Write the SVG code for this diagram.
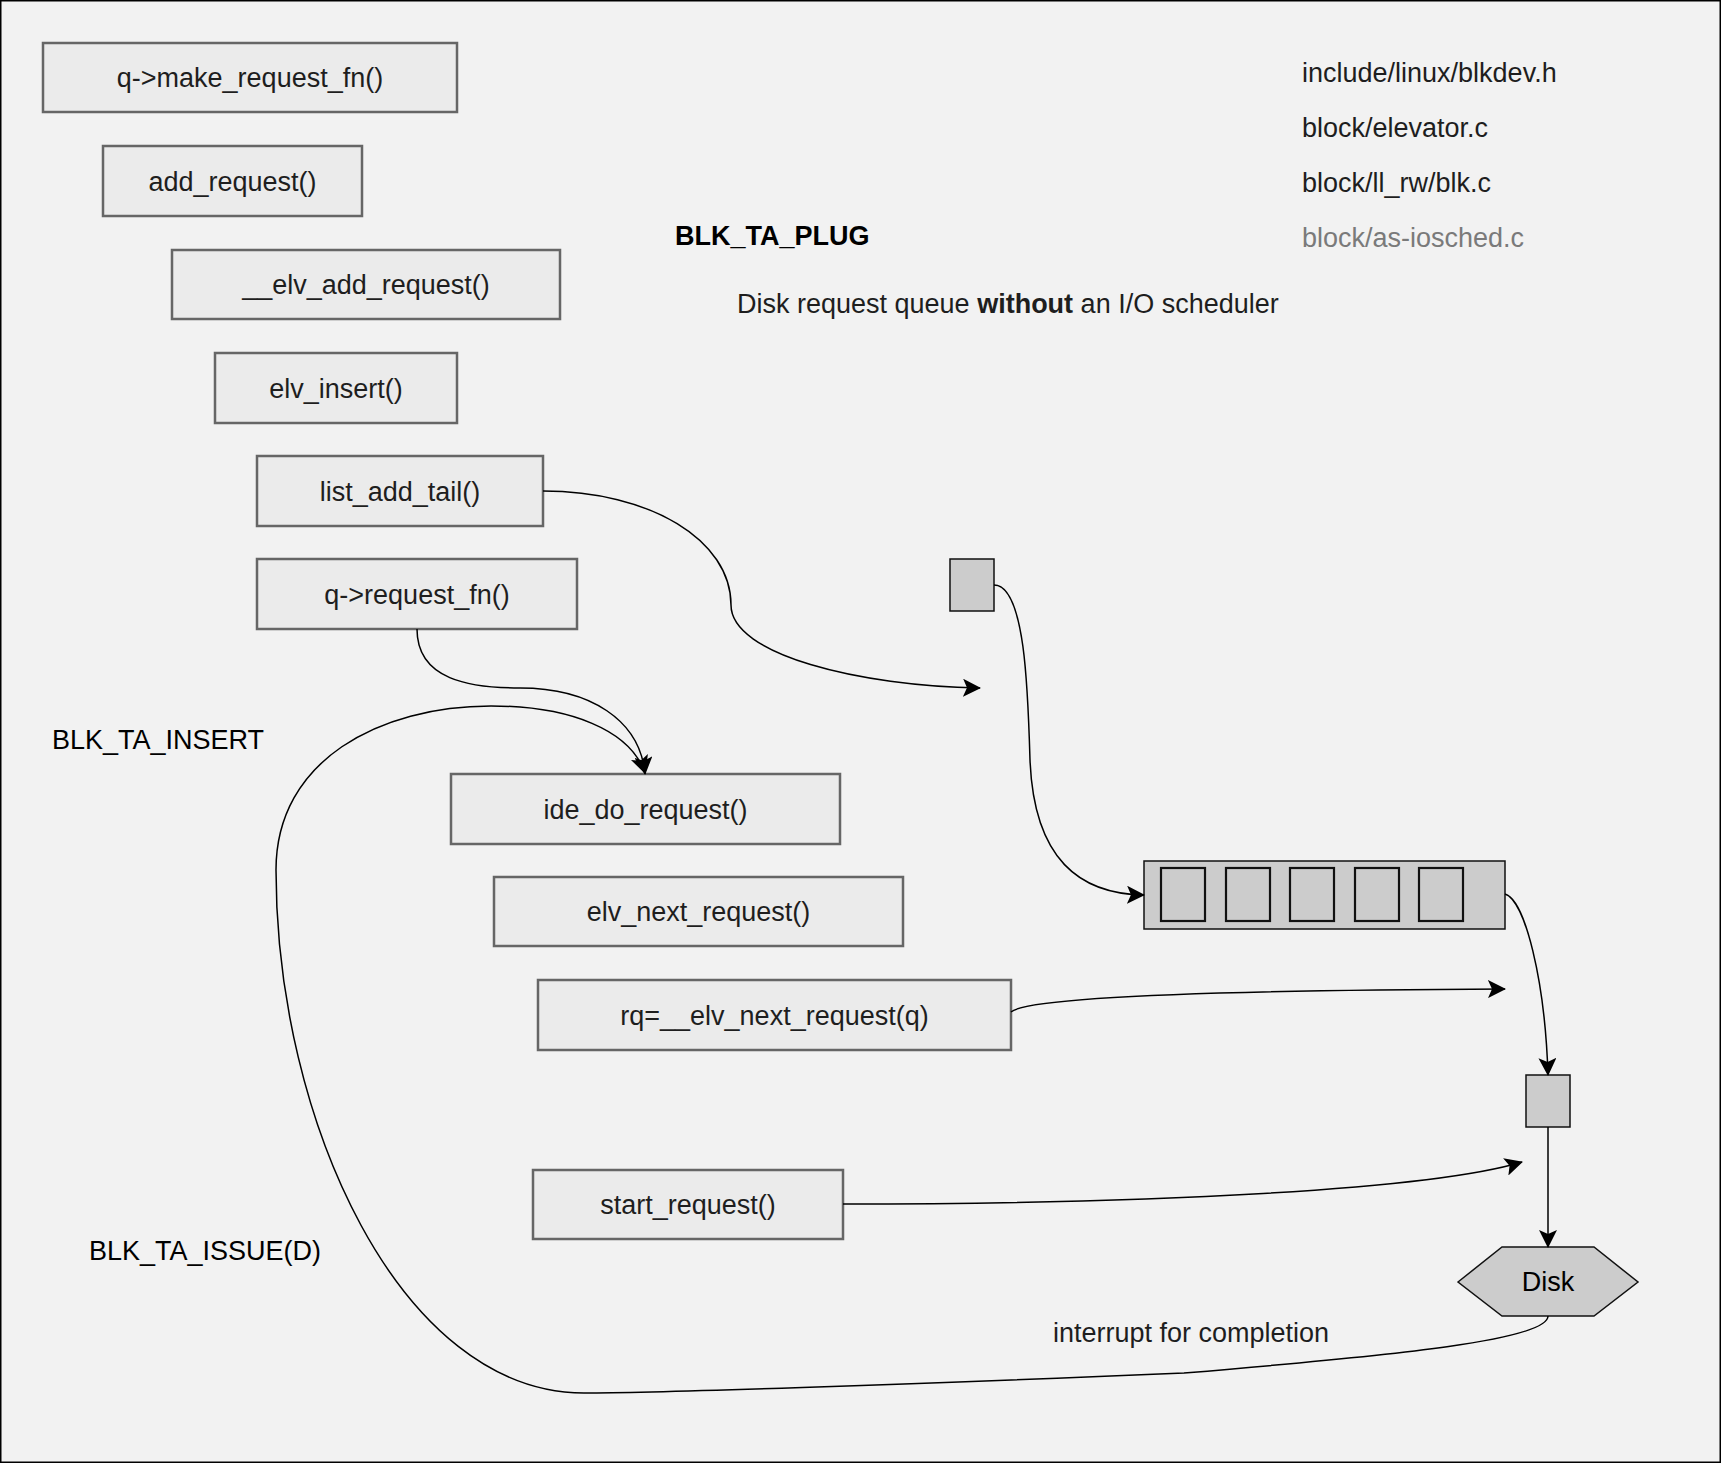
<svg xmlns="http://www.w3.org/2000/svg" width="1721" height="1463" viewBox="0 0 1721 1463">
<defs>
<style>
.fn rect{fill:#ebebeb;stroke:#666;stroke-width:2.5}
text{font-family:"Liberation Sans",Arial,sans-serif;font-size:27px;fill:#1e1e1e}
text.blk{fill:#000}
text.gray{fill:#7a7a7a}
.fn text{text-anchor:middle}
.req{fill:#cccccc;stroke:#111;stroke-width:1.5}
.slot{fill:#cccccc;stroke:#111;stroke-width:2.2}
.conn path{fill:none;stroke:#000;stroke-width:1.5}
</style>
<marker id="ah" viewBox="0 0 18 18" refX="17" refY="9" markerWidth="18" markerHeight="18" markerUnits="userSpaceOnUse" orient="auto">
<path d="M0,0 L18,9 L0,18 L4,9 z" fill="#000"/>
</marker>
</defs>
<rect x="0" y="0" width="1721" height="1463" fill="#f2f2f2"/>
<rect x="0.75" y="0.75" width="1719.5" height="1461.5" fill="none" stroke="#000" stroke-width="1.5"/>

<g id="n-make-request" class="fn"><rect x="43" y="43" width="414" height="69"/><text x="250" y="87">q-&gt;make_request_fn()</text></g>
<g id="n-add-request" class="fn"><rect x="103" y="146" width="259" height="70"/><text x="232.5" y="191">add_request()</text></g>
<g id="n-elv-add-request" class="fn"><rect x="172" y="250" width="388" height="69"/><text x="366" y="294">__elv_add_request()</text></g>
<g id="n-elv-insert" class="fn"><rect x="215" y="353" width="242" height="70"/><text x="336" y="398">elv_insert()</text></g>
<g id="n-list-add-tail" class="fn"><rect x="257" y="456" width="286" height="70"/><text x="400" y="501">list_add_tail()</text></g>
<g id="n-request-fn" class="fn"><rect x="257" y="559" width="320" height="70"/><text x="417" y="604">q-&gt;request_fn()</text></g>
<g id="n-ide-do-request" class="fn"><rect x="451" y="774" width="389" height="70"/><text x="645.5" y="819">ide_do_request()</text></g>
<g id="n-elv-next-request" class="fn"><rect x="494" y="877" width="409" height="69"/><text x="698.5" y="921">elv_next_request()</text></g>
<g id="n-rq-elv-next" class="fn"><rect x="538" y="980" width="473" height="70"/><text x="774.5" y="1025">rq=__elv_next_request(q)</text></g>
<g id="n-start-request" class="fn"><rect x="533" y="1170" width="310" height="69"/><text x="688" y="1214">start_request()</text></g>

<g id="n-request-item"><rect class="req" x="950" y="559" width="44" height="52"/></g>
<g id="n-queue">
<rect class="req" x="1144" y="861" width="361" height="68"/>
<rect class="slot" x="1161" y="868" width="44" height="53"/>
<rect class="slot" x="1226" y="868" width="44" height="53"/>
<rect class="slot" x="1290" y="868" width="44" height="53"/>
<rect class="slot" x="1355" y="868" width="44" height="53"/>
<rect class="slot" x="1419" y="868" width="44" height="53"/>
</g>
<g id="n-dispatched"><rect class="req" x="1526" y="1075" width="44" height="52"/></g>
<g id="n-disk">
<polygon points="1458,1282 1502,1247 1594,1247 1638,1282 1594,1316 1502,1316" fill="#cccccc" stroke="#111" stroke-width="1.5"/>
<text class="blk" x="1548" y="1291" text-anchor="middle">Disk</text>
</g>

<g id="labels">
<text class="blk" x="675" y="245" font-weight="bold">BLK_TA_PLUG</text>
<text x="737" y="313">Disk request queue <tspan font-weight="bold">without</tspan> an I/O scheduler</text>
<text x="1302" y="82">include/linux/blkdev.h</text>
<text x="1302" y="137">block/elevator.c</text>
<text x="1302" y="192">block/ll_rw/blk.c</text>
<text class="gray" x="1302" y="247">block/as-iosched.c</text>
<text class="blk" x="52" y="749">BLK_TA_INSERT</text>
<text class="blk" x="89" y="1260">BLK_TA_ISSUE(D)</text>
<text x="1053" y="1342">interrupt for completion</text>
</g>

<g id="connectors" class="conn">
<path d="M543,491 C650,491 731,540 731,605 C731,655 860,686 980,688" marker-end="url(#ah)"/>
<path d="M994,585 C1025,585 1028,690 1030,760 C1034,860 1080,894 1144,895" marker-end="url(#ah)"/>
<path d="M417,629 C417,680 470,688 520,688 C590,688 640,720 645,774" marker-end="url(#ah)"/>
<path d="M1011,1012 C1030,995 1280,990 1505,989" marker-end="url(#ah)"/>
<path d="M843,1204 C1150,1204 1430,1190 1522,1162" marker-end="url(#ah)"/>
<path d="M1505,894 C1525,900 1545,980 1548,1075" marker-end="url(#ah)"/>
<path d="M1548,1127 L1548,1247" marker-end="url(#ah)"/>
<path d="M1548,1316 C1548,1340 1400,1355 1184,1373 C900,1385 650,1393 584,1393 C400,1393 276,1120 276,870 C276,760 380,706 491,706 C570,706 630,730 645,773" marker-end="url(#ah)"/>
</g>
</svg>
